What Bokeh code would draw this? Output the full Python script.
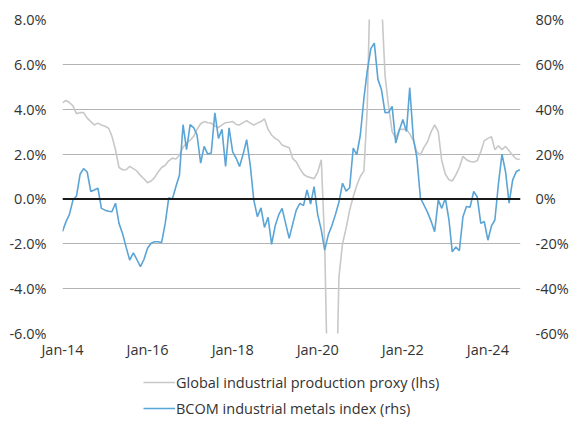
import pandas as pd
from bokeh.plotting import figure
from bokeh.layouts import column
from bokeh.models import (Range1d, LinearAxis, FixedTicker, PrintfTickFormatter,
                          DatetimeTickFormatter, Span, Legend, LegendItem)
from bokeh.embed import file_html
from bokeh.resources import INLINE

# monthly observations, Jan-14 .. Oct-24
months = pd.date_range("2014-01-01", "2024-10-01", freq="MS")

# Global industrial production proxy, % (lhs)
ip_proxy = [
    4.29, 4.39, 4.30, 4.15, 3.80, 3.85, 3.85, 3.60, 3.45, 3.30,
    3.38, 3.30, 3.24, 3.15, 2.80, 2.19, 1.40, 1.30, 1.30, 1.45,
    1.35, 1.25, 1.05, 0.90, 0.72, 0.80, 0.95, 1.20, 1.40, 1.50,
    1.70, 1.82, 1.78, 1.95, 2.30, 2.50, 2.62, 2.80, 3.10, 3.35,
    3.45, 3.40, 3.38, 3.25, 3.18, 3.30, 3.40, 3.42, 3.45, 3.32,
    3.30, 3.40, 3.49, 3.38, 3.30, 3.38, 3.45, 3.57, 3.10, 2.85,
    2.70, 2.60, 2.40, 2.34, 2.28, 1.80, 1.65, 1.35, 1.10, 1.00,
    0.95, 0.90, 1.20, 1.75, -2.0, -10.0, -14.0, -11.0, -3.5, -2.0,
    -1.3, -0.5, 0.1, 0.6, 1.0, 1.25, 4.0, 11.0, 14.0, 12.0,
    9.0, 5.5, 4.1, 3.0, 2.7, 3.1, 3.1, 3.1, 2.9, 2.6,
    2.1, 1.95, 2.3, 2.55, 3.0, 3.3, 3.0, 1.7, 1.1, 0.85,
    0.8, 1.07, 1.4, 1.9, 1.75, 1.67, 1.65, 1.7, 2.1, 2.6,
    2.7, 2.77, 2.2, 2.37, 2.2, 2.34, 2.15, 1.95, 1.78, 1.77,
]

# BCOM industrial metals index, % y/y (rhs)
bcom_metals = [
    -14.5, -10.0, -7.0, -0.5, 1.3, 11.0, 13.5, 12.0, 3.3, 4.0,
    4.8, -4.2, -5.0, -5.5, -5.7, -1.9, -10.9, -15.5, -21.5, -27.3,
    -24.0, -27.0, -30.2, -27.0, -22.0, -19.8, -19.1, -19.1, -19.4, -10.9,
    0.5, 0.0, 5.5, 10.7, 33.1, 22.0, 33.1, 31.7, 28.5, 16.0,
    23.4, 20.0, 20.5, 38.4, 27.0, 31.0, 14.5, 31.7, 21.0, 18.0,
    14.5, 20.0, 26.4, 15.0, -0.4, -7.9, -4.0, -12.7, -8.2, -20.3,
    -12.0, -7.0, -4.2, -11.0, -17.6, -11.0, -5.0, -2.0, -3.0, 4.0,
    -2.3, 5.5, -7.0, -13.9, -22.8, -16.0, -12.0, -7.0, -1.5, 7.0,
    3.5, 5.0, 22.7, 19.7, 28.5, 45.0, 57.0, 67.0, 69.5, 53.3,
    48.8, 38.5, 38.6, 41.3, 24.9, 30.5, 35.4, 30.1, 49.6, 27.0,
    18.5, 0.3, -2.7, -6.0, -10.0, -14.6, -0.4, -4.2, 0.3, -9.4,
    -23.6, -21.4, -23.1, -7.9, -3.4, -3.7, 3.3, 1.0, -10.9, -10.1,
    -18.4, -12.0, -9.4, 7.0, 20.0, 12.0, -1.9, 8.5, 12.2, 13.0,
]

lhs_ticks = [-6, -4, -2, 0, 2, 4, 6, 8]
rhs_ticks = [-60, -40, -20, 0, 20, 40, 60, 80]
year_ticks = ["2014-01-01", "2016-01-01", "2018-01-01", "2020-01-01",
              "2022-01-01", "2024-01-01"]
series_names = ["Global industrial production proxy (lhs)",
                "BCOM industrial metals index (rhs)"]

FONT = "Open Sans"
TXT = "#333333"
FS = "14.5px"
GRAY = "#c8c8c8"
BLUE = "#5aa4d6"

p = figure(width=576, height=365, x_axis_type="datetime",
           output_backend="svg", toolbar_location=None,
           x_range=Range1d(months[0], months[-1] + pd.Timedelta(days=6)),
           y_range=Range1d(-6, 8),
           min_border_left=62, min_border_right=56,
           min_border_top=19, min_border_bottom=32)
p.outline_line_color = None
p.extra_y_ranges = {"rhs": Range1d(-60, 80)}

p.xgrid.visible = False
p.ygrid.ticker = FixedTicker(ticks=lhs_ticks)
p.ygrid.grid_line_color = "#b3b3b3"
p.ygrid.grid_line_width = 1

p.add_layout(LinearAxis(y_range_name="rhs"), "right")

p.xaxis.ticker = FixedTicker(ticks=[pd.Timestamp(t).value // 10**6 for t in year_ticks])
fmt = "%b-%y"
p.xaxis.formatter = DatetimeTickFormatter(years=fmt, months=fmt, days=fmt,
                                          hours=fmt, minutes=fmt)
p.yaxis[0].ticker = FixedTicker(ticks=lhs_ticks)
p.yaxis[0].formatter = PrintfTickFormatter(format="%.1f%%")
p.yaxis[1].ticker = FixedTicker(ticks=rhs_ticks)
p.yaxis[1].formatter = PrintfTickFormatter(format="%d%%")

for ax in p.xaxis + p.yaxis:
    ax.axis_line_color = None
    ax.major_tick_line_color = None
    ax.minor_tick_line_color = None
    ax.major_tick_out = 0
    ax.major_label_text_font = FONT
    ax.major_label_text_font_size = FS
    ax.major_label_text_color = TXT
p.yaxis[0].major_label_standoff = 16
p.yaxis[1].major_label_standoff = 15
p.xaxis.major_label_standoff = 6

p.add_layout(Span(location=0, dimension="width", line_color="#1a1a1a", line_width=2))

p.line(months, ip_proxy, line_color=GRAY, line_width=1.6)
p.line(months, bcom_metals, y_range_name="rhs", line_color=BLUE, line_width=1.6)

# legend strip under the chart (series drawn out of view, only the key shows)
leg = figure(width=576, height=59, output_backend="svg", toolbar_location=None,
             x_range=(0, 1), y_range=(0, 1),
             min_border_left=0, min_border_right=0, min_border_top=0, min_border_bottom=0)
leg.axis.visible = False
leg.grid.visible = False
leg.outline_line_color = None
r1 = leg.line(months, ip_proxy, line_color=GRAY, line_width=1.6)
r2 = leg.line(months, bcom_metals, line_color=BLUE, line_width=1.6)
lg = Legend(items=[LegendItem(label=series_names[0], renderers=[r1]),
                   LegendItem(label=series_names[1], renderers=[r2])],
            location=(81, 6), margin=0, padding=0, spacing=6,
            glyph_width=32, glyph_height=20, label_height=20, label_standoff=1,
            label_text_font=FONT, label_text_font_size=FS, label_text_color=TXT,
            background_fill_alpha=0, border_line_color=None)
leg.add_layout(lg)

open("out.html", "w").write(file_html(column(p, leg, spacing=0), INLINE))
